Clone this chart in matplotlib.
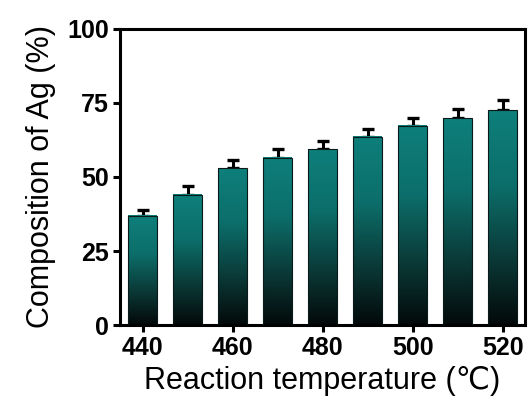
import numpy as np
import matplotlib
matplotlib.use("Agg")
import matplotlib.pyplot as plt
from matplotlib.colors import LinearSegmentedColormap

# data
temperature = [440, 450, 460, 470, 480, 490, 500, 510, 520]
composition = [36.8, 44.0, 52.9, 56.4, 59.4, 63.6, 67.2, 69.8, 72.5]
error = [2.1, 3.0, 2.8, 3.1, 2.6, 2.7, 2.7, 3.1, 3.5]
xticks = [440, 460, 480, 500, 520]
yticks = [0, 25, 50, 75, 100]

plt.rcParams['font.family'] = ['Liberation Sans', 'DejaVu Sans']

fig = plt.figure(figsize=(5.31, 4.12), dpi=100)
ax = fig.add_axes([0.226, 0.211, 0.763, 0.719])

# teal at the top of each bar fading to black at the bottom
cmap = LinearSegmentedColormap.from_list(
    "tealfade", [(0.0, "#030909"), (0.3, "#0a3836"), (0.65, "#0c6e6a"), (1.0, "#0e7f7b")])
grad = np.linspace(0, 1, 256).reshape(-1, 1)

width = 6.4
for x, h in zip(temperature, composition):
    ax.imshow(grad, extent=[x - width / 2, x + width / 2, 0, h], origin="lower",
              aspect="auto", cmap=cmap, zorder=2, interpolation="bicubic")
    ax.bar(x, h, width=width, facecolor="none", edgecolor="#0a1a1a", linewidth=0.8, zorder=3)

ax.errorbar(temperature, composition, yerr=[np.zeros(len(error)), error], fmt="none",
            ecolor="black", elinewidth=2.2, capsize=4.3, capthick=2.4, zorder=1)

ax.set_xlim(435, 525)
ax.set_ylim(0, 100)
ax.set_xticks(xticks)
ax.set_yticks(yticks)

for s in ax.spines.values():
    s.set_linewidth(2.2)
ax.tick_params(direction="out", length=5, width=2.2, labelsize=18, pad=3)
for lab in ax.get_xticklabels() + ax.get_yticklabels():
    lab.set_fontweight("bold")

ax.set_xlabel("Reaction temperature (\u2103)", fontsize=22, labelpad=4)
ax.set_ylabel("Composition of Ag (%)", fontsize=22, labelpad=8)

fig.savefig("out.png", dpi=100)
